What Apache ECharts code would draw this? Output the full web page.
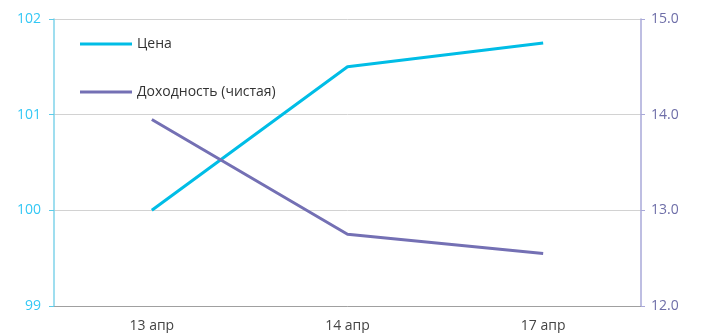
<!DOCTYPE html>
<html>
<head>
<meta charset="utf-8">
<script src="https://cdn.jsdelivr.net/npm/echarts@6/dist/echarts.min.js"></script>
<style>
html,body{margin:0;padding:0;background:#fff;}
#chart{width:702px;height:333px;}
</style>
</head>
<body>
<div id="chart"></div>
<script>
// Dates on the category axis
const dates = ['13 апр', '14 апр', '17 апр'];
// Clean price, left axis
const price = [100, 101.5, 101.75];
// Net yield, right axis
const yieldNet = [13.95, 12.75, 12.55];
// Axis tick labels
const priceTicks = [99, 100, 101, 102];
const yieldTicks = [12.0, 13.0, 14.0, 15.0];

const cyan = '#00bde6';
const violet = '#7470b4';
const font = '"Open Sans", "Noto Sans", sans-serif';

const chart = echarts.init(document.getElementById('chart'), null, { renderer: 'canvas' });
chart.setOption({
  animation: false,
  backgroundColor: '#fff',
  textStyle: { fontFamily: font },
  grid: { left: 54, right: 61, top: 19, bottom: 26, containLabel: false },
  legend: {
    orient: 'vertical',
    left: 75,
    top: 32,
    itemGap: 34,
    itemWidth: 52,
    itemHeight: 3,
    icon: 'rect',
    textStyle: { color: '#333', fontSize: 14, fontFamily: font },
    data: [
      { name: 'Цена', itemStyle: { color: cyan } },
      { name: 'Доходность (чистая)', itemStyle: { color: violet } }
    ]
  },
  xAxis: {
    type: 'category',
    data: dates,
    boundaryGap: true,
    axisLine: { show: true, lineStyle: { color: '#a0a0a0', width: 1 } },
    axisTick: { show: false },
    axisLabel: { color: '#444', fontSize: 14, margin: 13 },
    splitLine: { show: false }
  },
  yAxis: [
    {
      type: 'value',
      position: 'left',
      min: priceTicks[0],
      max: priceTicks[priceTicks.length - 1],
      interval: 1,
      axisLine: { show: true, lineStyle: { color: '#7fd3ea', width: 1.5 } },
      axisTick: { show: true, length: 5, inside: false, lineStyle: { color: '#5ccbe8' } },
      axisLabel: { color: '#33c8f5', fontSize: 14, margin: 13 },
      splitLine: { show: true, lineStyle: { color: '#d2d2d2', width: 1 } }
    },
    {
      type: 'value',
      position: 'right',
      min: yieldTicks[0],
      max: yieldTicks[yieldTicks.length - 1],
      interval: 1,
      axisLine: { show: true, lineStyle: { color: '#a8a8d8', width: 1.5 } },
      axisTick: { show: true, length: 4, lineStyle: { color: '#a8a8d8' } },
      axisLabel: { color: '#6e6ea8', fontSize: 14, margin: 10, formatter: v => v.toFixed(1) },
      splitLine: { show: false }
    }
  ],
  series: [
    {
      name: 'Цена',
      type: 'line',
      yAxisIndex: 0,
      data: price,
      symbol: 'none',
      lineStyle: { color: cyan, width: 3 },
      itemStyle: { color: cyan }
    },
    {
      name: 'Доходность (чистая)',
      type: 'line',
      yAxisIndex: 1,
      data: yieldNet,
      symbol: 'none',
      lineStyle: { color: violet, width: 3 },
      itemStyle: { color: violet }
    }
  ]
});
</script>
</body>
</html>
